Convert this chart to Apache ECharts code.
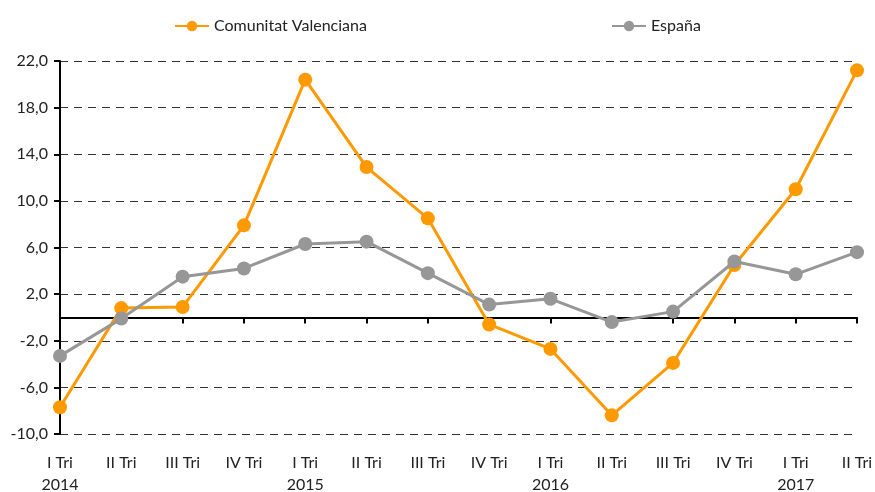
<!DOCTYPE html>
<html>
<head>
<meta charset="utf-8">
<script src="https://cdn.jsdelivr.net/npm/echarts@6/dist/echarts.min.js"></script>
<style>html,body{margin:0;padding:0;background:#fff;overflow:hidden}#c{width:875px;height:492px}</style>
</head>
<body>
<div id="c"></div>
<script>
var quarters = ['I Tri','II Tri','III Tri','IV Tri','I Tri','II Tri','III Tri','IV Tri','I Tri','II Tri','III Tri','IV Tri','I Tri','II Tri'];
var years = ['2014','','','','2015','','','','2016','','','','2017',''];
var valenciana = [-7.7, 0.8, 0.9, 7.9, 20.4, 12.9, 8.5, -0.6, -2.7, -8.4, -3.9, 4.5, 11.0, 21.2];
var espana = [-3.3, -0.1, 3.5, 4.2, 6.3, 6.5, 3.8, 1.1, 1.6, -0.4, 0.5, 4.8, 3.7, 5.6];
var seriesNames = ['Comunitat Valenciana', 'España'];

var cats = quarters.map(function(q, i){ return q + '\n' + years[i]; });
var font = 'Lato, "Open Sans", sans-serif';
var el = document.getElementById('c');
var chart = echarts.init(el);
chart.setOption({
  animation: false,
  textStyle: {fontFamily: font},
  legend: [
    {data: [seriesNames[0]], left: 169, top: 13, itemWidth: 34, itemHeight: 13, itemGap: 5,
     textStyle: {fontFamily: font, fontSize: 16, color: '#222'}},
    {data: [seriesNames[1]], left: 606, top: 13, itemWidth: 34, itemHeight: 13, itemGap: 5,
     textStyle: {fontFamily: font, fontSize: 16, color: '#222'}}
  ],
  grid: {left: 60, right: 18, top: 61, height: 373, containLabel: false, outerBoundsMode: 'none'},
  xAxis: [
    {type: 'category', data: cats, boundaryGap: false,
     axisLine: {onZero: true, lineStyle: {color: '#000', width: 2}},
     axisTick: {show: true, alignWithLabel: true, length: 6, lineStyle: {color: '#000', width: 2}},
     axisLabel: {show: false}, splitLine: {show: false}},
    {type: 'category', data: cats, boundaryGap: false, position: 'bottom',
     axisLine: {show: false}, axisTick: {show: false}, splitLine: {show: false},
     axisLabel: {show: true, interval: 0, margin: 18, fontFamily: font, fontSize: 16, color: '#222', lineHeight: 22}}
  ],
  yAxis: {type: 'value', min: -10, max: 22, interval: 4,
    axisLine: {show: true, onZero: false, lineStyle: {color: '#000', width: 2}},
    axisTick: {show: true, length: 6, lineStyle: {color: '#000', width: 2}},
    axisLabel: {margin: 12, fontFamily: font, fontSize: 16, color: '#222',
      formatter: function(v){ return v.toFixed(1).replace('.', ','); }},
    splitLine: {show: true, lineStyle: {color: '#333', type: [8, 6], width: 1}}
  },
  series: [
    {name: seriesNames[0], type: 'line', data: valenciana, xAxisIndex: 0,
     symbol: 'circle', symbolSize: 14, color: '#FF9900',
     lineStyle: {width: 3, color: '#FF9900'}, itemStyle: {color: '#FF9900'}, z: 3},
    {name: seriesNames[1], type: 'line', data: espana, xAxisIndex: 0,
     symbol: 'circle', symbolSize: 14, color: '#979797',
     lineStyle: {width: 3, color: '#979797'}, itemStyle: {color: '#979797'}, z: 4}
  ]
});
</script>
</body>
</html>
